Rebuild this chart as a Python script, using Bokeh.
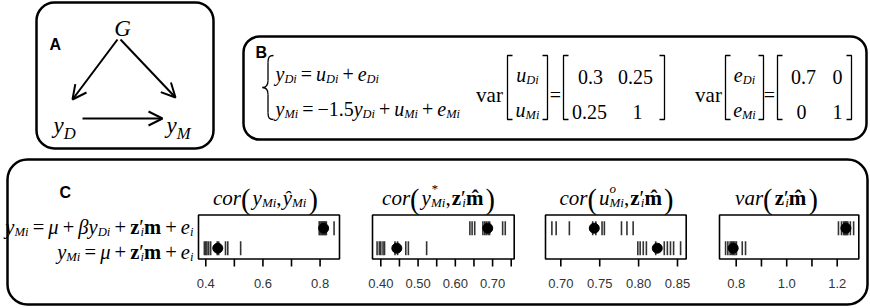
import numpy as np
from bokeh.plotting import figure
from bokeh.models import Range1d, BoxAnnotation, Arrow, OpenHead, ColumnDataSource
from bokeh.core.properties import value
from bokeh.embed import file_html
from bokeh.resources import INLINE

# ---------------- data ----------------
# axis limits of the four strip panels (data units at the panel frame edges)
axis_limits = [(0.3745, 0.868), (0.3777, 0.758), (0.6803, 0.8612), (0.7339, 1.2855)]

ticks_1 = [0.4, 0.5, 0.6, 0.7, 0.8]
labels_1 = ["0.4", "", "0.6", "", "0.8"]
ticks_2 = [0.40, 0.45, 0.50, 0.55, 0.60, 0.65, 0.70, 0.75]
labels_2 = ["0.40", "", "0.50", "", "0.60", "", "0.70", ""]
ticks_3 = [0.70, 0.75, 0.80, 0.85]
labels_3 = ["0.70", "0.75", "0.80", "0.85"]
ticks_4 = [0.8, 0.9, 1.0, 1.1, 1.2]
labels_4 = ["0.8", "", "1.0", "", "1.2"]

# model with y_D (top row) / without y_D (bottom row); 10 replicates + mean
s1_with = [0.797, 0.800, 0.804, 0.807, 0.810, 0.813, 0.816, 0.819, 0.822, 0.849]
s1_without = [0.395, 0.400, 0.404, 0.410, 0.417, 0.440, 0.445, 0.469, 0.477, 0.522]
s2_with = [0.639, 0.645, 0.652, 0.674, 0.679, 0.683, 0.688, 0.692, 0.727, 0.734]
s2_without = [0.390, 0.396, 0.400, 0.406, 0.410, 0.438, 0.445, 0.467, 0.474, 0.523]
s3_with = [0.6885, 0.694, 0.711, 0.741, 0.745, 0.753, 0.756, 0.778, 0.785, 0.793]
s3_without = [0.799, 0.802, 0.806, 0.810, 0.822, 0.833, 0.837, 0.841, 0.845, 0.854]
s4_with = [1.205, 1.217, 1.225, 1.229, 1.232, 1.235, 1.238, 1.242, 1.252, 1.265]
s4_without = [0.758, 0.767, 0.776, 0.782, 0.786, 0.790, 0.795, 0.801, 0.824, 0.837]
mean_with = [0.8125, 0.687, 0.743, 1.2345]
mean_without = [0.442, 0.443, 0.824, 0.788]

# ---------------- layout ----------------
W, H = 870, 308


def Y(py):
    return H - py


BOX_L = [198, 372, 545, 719]
BOX_R = [339, 513.7, 685.7, 858.3]
BOX_T, BOX_B = 214.5, 258.5
ROW_TOP, ROW_BOT = 227.7, 247.7

p = figure(width=W, height=H, x_range=Range1d(0, W), y_range=Range1d(0, H),
           output_backend="svg", toolbar_location=None, min_border=0,
           x_axis_location=None, y_axis_location=None)
p.grid.visible = False
p.outline_line_color = None
p.background_fill_color = "white"

# row range: top row = 1, bottom row = 0
ppu = ROW_BOT - ROW_TOP
p.extra_y_ranges = {"rows": Range1d(start=-(H - ROW_BOT) / ppu, end=ROW_BOT / ppu)}
xr = {}
for k, (lo, hi) in enumerate(axis_limits):
    sc = (BOX_R[k] - BOX_L[k]) / (hi - lo)
    xr[f"s{k}"] = Range1d(start=lo - BOX_L[k] / sc, end=lo + (W - BOX_L[k]) / sc)
p.extra_x_ranges = xr

# ---------------- panel boxes ----------------
for (l, r, t, b, rad) in [(36, 213, 2, 148, 18), (243, 866, 36, 139, 16), (7, 867, 159, 304, 20)]:
    p.add_layout(BoxAnnotation(left=l, right=r, top=Y(t), bottom=Y(b), border_radius=rad,
                               fill_color=None, fill_alpha=0, line_color="black",
                               line_alpha=1.0, line_width=2.5))

# ---------------- text helper ----------------
TXT = dict(x=[], y=[], text=[], font=[], style=[], size=[])
RW = {'.': .25, ',': .25, '=': .564, '+': .564, '\u2212': .564, '(': .333, ')': .333,
      'v': .5, 'a': .444, 'r': .333, '\u2032': .275, ' ': .25}
IW = {'y': .444, 'u': .5, 'e': .444, 'D': .722, 'M': .833, 'i': .278, 'c': .444, 'o': .5,
      'r': .389, 'v': .444, 'a': .5, 'G': .722, '\u03bc': .5, '\u03b2': .5, '\u0177': .444,
      '*': .5, ',': .25}
BW = {'z': .444, 'm': .833, '\u0302': 0}
SERIF = "Liberation Serif"


def twidth(t, st):
    tab = BW if st == 'b' else (RW if st in ('r', 'big', 'prime') else IW)
    return sum(tab.get(c, .5) for c in t)


def flow(x, ypx, pieces, f, align="left", subk=0.62, subdy=0.25):
    items = []
    cx = 0.0
    for t, st in pieces:
        if st == 'gap':
            cx += t * f
            continue
        size, dy, adv = f, 0.0, True
        style = "normal"
        if st == 'i':
            style = "italic"
        elif st == 'b':
            style = "bold"
        elif st == 'sub':
            style, size, dy = "italic", f * subk, f * subdy
        elif st == 'supn':
            style, size, dy, adv = "italic", f * subk, -f * 0.42, False
        elif st == 'big':
            size, dy = f * 1.35, f * 0.09
        elif st == 'prime':
            adv = False
        w = twidth(t, st) * size
        items.append((cx, dy, t, size, style))
        if adv:
            cx += w
    off = x - cx if align == "right" else (x - cx / 2 if align == "center" else x)
    for (ix, dy, t, size, style) in items:
        TXT['x'].append(off + ix)
        TXT['y'].append(Y(ypx + dy))
        TXT['text'].append(t)
        TXT['font'].append(SERIF)
        TXT['style'].append(style)
        TXT['size'].append(f"{size:.1f}px")


def G(e):
    return (e, 'gap')


# ---------------- panel A ----------------
flow(122, 28, [('G', 'i')], 23, align="center")
flow(53, 125, [('y', 'i'), ('D', 'sub')], 23, subk=0.72, subdy=0.36)
flow(166, 125, [('y', 'i'), ('M', 'sub')], 23, subk=0.72, subdy=0.36)
for (x0, y0, x1, y1) in [(117, 39, 72, 99), (120, 39, 175, 97), (82, 118, 162, 118)]:
    p.add_layout(Arrow(end=OpenHead(size=14, line_width=2, line_color="black"),
                       x_start=x0, y_start=Y(y0), x_end=x1, y_end=Y(y1),
                       line_width=2, line_color="black"))

# ---------------- panel B ----------------
fB = 20
op = 0.2
flow(275, 73, [('y', 'i'), ('Di', 'sub'), G(op), ('=', 'r'), G(op), ('u', 'i'), ('Di', 'sub'),
               G(op), ('+', 'r'), G(op), ('e', 'i'), ('Di', 'sub')], fB)
flow(275, 108, [('y', 'i'), ('Mi', 'sub'), G(op), ('=', 'r'), G(op), ('\u22121.5', 'r'),
                ('y', 'i'), ('Di', 'sub'), G(op), ('+', 'r'), G(op), ('u', 'i'), ('Mi', 'sub'),
                G(op), ('+', 'r'), G(op), ('e', 'i'), ('Mi', 'sub')], fB)
flow(489, 94, [('var', 'r')], 21, align="center")
flow(708, 94, [('var', 'r')], 21, align="center")
flow(555, 94, [('=', 'r')], fB, align="center")
flow(769, 94, [('=', 'r')], fB, align="center")
flow(527, 74, [('u', 'i'), ('Di', 'sub')], fB, align="center")
flow(527, 109, [('u', 'i'), ('Mi', 'sub')], fB, align="center")
flow(744, 74, [('e', 'i'), ('Di', 'sub')], fB, align="center")
flow(744, 109, [('e', 'i'), ('Mi', 'sub')], fB, align="center")
for (cxp, byp, t) in [(590, 76, "0.3"), (635, 76, "0.25"), (589, 111, "0.25"), (637, 111, "1"),
                      (803, 76, "0.7"), (837, 76, "0"), (801, 111, "0"), (837, 111, "1")]:
    flow(cxp, byp, [(t, 'r')], fB, align="center")

# brackets
bt, bb = 55, 119
bx, by = [], []
for (l, r) in [(507, 547), (563, 664), (725, 763), (777, 851)]:
    bx.append([l + 5, l, l, l + 5]); by.append([Y(bt), Y(bt), Y(bb), Y(bb)])
    bx.append([r - 5, r, r, r - 5]); by.append([Y(bt), Y(bt), Y(bb), Y(bb)])
p.multi_line(bx, by, line_color="black", line_width=1.3)

# brace
xr_, xm, xl = 273, 267.5, 262
ym = (bt + bb) / 2
p.bezier(x0=[xr_, xm, xl, xm], y0=[Y(bt), Y(ym - 7), Y(ym), Y(bb - 7)],
         x1=[xm, xl, xm, xr_], y1=[Y(bt + 7), Y(ym), Y(ym + 7), Y(bb)],
         cx0=[xm + 1, xm, xl + 3, xm], cy0=[Y(bt), Y(ym - 2), Y(ym), Y(bb - 2)],
         cx1=[xm, xl + 3, xm, xm + 1], cy1=[Y(bt + 2), Y(ym), Y(ym + 2), Y(bb)],
         line_color="black", line_width=1.3)
p.segment(x0=[xm, xm], y0=[Y(bt + 7), Y(ym + 7)], x1=[xm, xm], y1=[Y(ym - 7), Y(bb - 7)],
          line_color="black", line_width=1.3)

# ---------------- panel C ----------------
fC = 20.5
zm = [('z', 'b'), ('\u2032', 'prime'), G(0.06), ('i', 'sub'), ('m', 'b')]
zmh = [('z', 'b'), ('\u2032', 'prime'), G(0.06), ('i', 'sub'), ('m\u0302', 'b')]
flow(193, 226, [('y', 'i'), ('Mi', 'sub'), G(op), ('=', 'r'), G(op), ('\u03bc', 'i'), G(op),
                ('+', 'r'), G(op), ('\u03b2', 'i'), ('y', 'i'), ('Di', 'sub'), G(op), ('+', 'r'),
                G(op)] + zm + [G(op), ('+', 'r'), G(op), ('e', 'i'), ('i', 'sub')], fC, align="right")
flow(193, 251, [('y', 'i'), ('Mi', 'sub'), G(op), ('=', 'r'), G(op), ('\u03bc', 'i'), G(op),
                ('+', 'r'), G(op)] + zm + [G(op), ('+', 'r'), G(op), ('e', 'i'), ('i', 'sub')],
     fC, align="right")

fT = 21
pg = 0.1
title_cx = [265, 438, 616, 776]
title_pieces = [
    [('cor', 'i'), ('(', 'big'), G(pg), ('y', 'i'), ('Mi', 'sub'), (',', 'r'), G(0.05),
     ('\u0177', 'i'), ('Mi', 'sub'), G(pg), (')', 'big')],
    [('cor', 'i'), ('(', 'big'), G(pg), ('y', 'i'), ('*', 'supn'), ('Mi', 'sub'), (',', 'r'),
     G(0.05)] + zmh + [G(pg), (')', 'big')],
    [('cor', 'i'), ('(', 'big'), G(pg), ('u', 'i'), ('o', 'supn'), ('Mi', 'sub'), (',', 'r'),
     G(0.05)] + zmh + [G(pg), (')', 'big')],
    [('var', 'i'), ('(', 'big'), G(pg)] + zmh + [G(pg), (')', 'big')],
]
for cxp, pcs in zip(title_cx, title_pieces):
    flow(cxp, 197, pcs, fT, align="center")

# panel letters
src_lab = ColumnDataSource(dict(x=[49, 255, 59], y=[Y(44), Y(52), Y(192)], t=["A", "B", "C"]))
p.text(x="x", y="y", text="t", source=src_lab, text_font=value("Liberation Sans"),
       text_font_style="bold", text_font_size="16px", text_baseline="alphabetic", text_color="black")

# strip panels
strip_with = [s1_with, s2_with, s3_with, s4_with]
strip_without = [s1_without, s2_without, s3_without, s4_without]
tick_sets = [(ticks_1, labels_1), (ticks_2, labels_2), (ticks_3, labels_3), (ticks_4, labels_4)]
for k in range(4):
    rn = f"s{k}"
    p.add_layout(BoxAnnotation(left=BOX_L[k], right=BOX_R[k], top=Y(BOX_T), bottom=Y(BOX_B),
                               fill_color=None, fill_alpha=0, line_color="black",
                               line_alpha=1.0, line_width=1.6))
    for vals, row in [(strip_with[k], 1), (strip_without[k], 0)]:
        p.scatter(x=vals, y=[row] * len(vals), marker="dash", size=14, angle=np.pi / 2,
                  line_color="#333333", line_width=1.6, x_range_name=rn, y_range_name="rows")
    p.scatter(x=[mean_with[k], mean_without[k]], y=[1, 0], marker="circle", size=10,
              fill_color="black", line_color="black", x_range_name=rn, y_range_name="rows")
    tv, tl = tick_sets[k]
    p.segment(x0=tv, y0=[Y(BOX_B)] * len(tv), x1=tv, y1=[Y(BOX_B + 7.5)] * len(tv),
              line_color="black", line_width=1.6, x_range_name=rn)
    lv = [v for v, l in zip(tv, tl) if l]
    ll = [l for l in tl if l]
    p.text(x=lv, y=[Y(283)] * len(lv), text=ll, x_range_name=rn, text_align="center",
           text_baseline="middle", text_font=value("Liberation Sans"), text_font_size="13px",
           text_color="#333333")

src = ColumnDataSource(TXT)
p.text(x="x", y="y", text="text", source=src, text_font="font", text_font_style="style",
       text_font_size="size", text_align="left", text_baseline="alphabetic", text_color="black")

open("out.html", "w").write(file_html(p, INLINE))
